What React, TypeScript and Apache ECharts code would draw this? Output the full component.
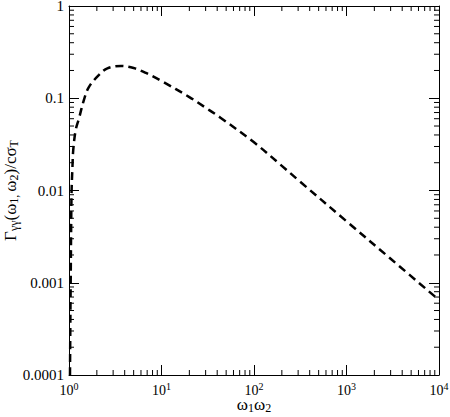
import React, { useEffect, useRef } from "react";
import * as echarts from "echarts";

// Curve (x = ω1ω2, y = Γγγ/cσT)
const xValues: number[] = [1.025, 1.035, 1.043, 1.055, 1.067, 1.09, 1.11, 1.18, 1.28, 1.45, 1.64, 2.11, 2.6, 3.65, 5, 6.8, 10, 20, 30, 43, 100, 200, 300, 1000, 3000, 10000];
const yValues: number[] = [0.0001, 0.0004, 0.001, 0.004, 0.01, 0.018, 0.027, 0.045, 0.06, 0.096, 0.132, 0.179, 0.211, 0.224, 0.213, 0.188, 0.154, 0.103, 0.079, 0.062, 0.0333, 0.0185, 0.013, 0.00464, 0.00182, 0.00065];

const xMin = 1;
const xMax = 10000;
const yMin = 0.0001;
const yMax = 1;
const yTickLabels: Record<string, string> = {
  "1": "1",
  "0.1": "0.1",
  "0.01": "0.01",
  "0.001": "0.001",
  "0.0001": "0.0001",
};

const xDecades = [0, 1, 2, 3];
const yDecades = [-4, -3, -2, -1];
const minorMults = [2, 3, 4, 5, 6, 7, 8, 9];

const FONT = "'Liberation Serif', 'Times New Roman', serif";

export default function App() {
  const ref = useRef<HTMLDivElement>(null);
  useEffect(() => {
    if (!ref.current) return;
    const chart = echarts.init(ref.current, undefined, { renderer: "svg" });

    const xMinor: number[][] = [];
    xDecades.forEach((d) => minorMults.forEach((m) => xMinor.push([m * Math.pow(10, d), yMin])));
    const yMinor: number[][] = [];
    yDecades.forEach((d) => minorMults.forEach((m) => yMinor.push([xMin, m * Math.pow(10, d)])));

    const lineStyle = { color: "#000", width: 1 };
    const minorLen = 5;

    const common = {
      type: "log" as const,
      logBase: 10,
      axisLine: { show: true, lineStyle, onZero: false },
      axisTick: { show: true, inside: true, length: 10, lineStyle },
      splitLine: { show: false },
      nameMoveOverlap: false,
    };

    const titleRich = {
      m: { fontSize: 17, fontFamily: FONT, color: "#000", lineHeight: 20 },
      s: { fontSize: 12, fontFamily: FONT, color: "#000", lineHeight: 12, verticalAlign: "bottom" },
    };

    const option: any = {
      animation: false,
      backgroundColor: "#fff",
      grid: { left: 69, right: 11, top: 6, bottom: 42, containLabel: false, outerBoundsMode: "none" },
      xAxis: [
        {
          ...common,
          position: "bottom",
          min: xMin,
          max: xMax,
          axisLabel: {
            margin: 6,
            formatter: (v: number) => `{b|10}{s|${Math.round(Math.log10(v))}}`,
            rich: {
              b: { fontSize: 14, fontFamily: FONT, color: "#000", lineHeight: 18 },
              s: { fontSize: 10, fontFamily: FONT, color: "#000", lineHeight: 10, verticalAlign: "top" },
            },
          },
          name: "{m|ω}{s|1}{m|ω}{s|2}",
          nameLocation: "middle",
          nameGap: 19,
          nameTextStyle: { rich: titleRich },
        },
        {
          ...common,
          position: "top",
          min: xMin,
          max: xMax,
          axisLabel: { show: false },
        },
      ],
      yAxis: [
        {
          ...common,
          position: "left",
          min: yMin,
          max: yMax,
          axisLabel: {
            margin: 5,
            fontSize: 15,
            fontFamily: FONT,
            formatter: (v: number) => {
              const k = String(Number(v.toPrecision(3)));
              return `{b|${yTickLabels[k] ?? k}}`;
            },
            rich: {
              b: { fontSize: 15, fontFamily: FONT, color: "#000", lineHeight: 12 },
            },
          },
          name: "{m|Γ}{s|γγ}{m|(ω}{s|1, }{m|ω}{s|2}{m|)/cσ}{s|T}",
          nameLocation: "middle",
          nameRotate: 90,
          nameGap: 49,
          nameTextStyle: { rich: titleRich },
        },
        {
          ...common,
          position: "right",
          min: yMin,
          max: yMax,
          axisLabel: { show: false },
        },
      ],
      series: [
        {
          type: "line",
          data: xValues.map((x, i) => [x, yValues[i]]),
          showSymbol: false,
          smooth: 0.35,
          lineStyle: { color: "#000", width: 2.5, type: [8, 5] },
          z: 5,
        },
        {
          type: "custom",
          silent: true,
          data: xMinor,
          renderItem: (_p: any, api: any) => {
            const v = api.value(0);
            const b = api.coord([v, yMin]);
            const t = api.coord([v, yMax]);
            return {
              type: "group",
              children: [
                { type: "line", shape: { x1: b[0], y1: b[1], x2: b[0], y2: b[1] - minorLen }, style: { stroke: "#000", lineWidth: 1 } },
                { type: "line", shape: { x1: t[0], y1: t[1], x2: t[0], y2: t[1] + minorLen }, style: { stroke: "#000", lineWidth: 1 } },
              ],
            };
          },
        },
        {
          type: "custom",
          silent: true,
          data: yMinor,
          renderItem: (_p: any, api: any) => {
            const v = api.value(1);
            const l = api.coord([xMin, v]);
            const r = api.coord([xMax, v]);
            return {
              type: "group",
              children: [
                { type: "line", shape: { x1: l[0], y1: l[1], x2: l[0] + minorLen, y2: l[1] }, style: { stroke: "#000", lineWidth: 1 } },
                { type: "line", shape: { x1: r[0], y1: r[1], x2: r[0] - minorLen, y2: r[1] }, style: { stroke: "#000", lineWidth: 1 } },
              ],
            };
          },
        },
      ],
    };
    chart.setOption(option);
    return () => chart.dispose();
  }, []);
  return <div ref={ref} style={{ position: "fixed", left: 0, top: 0, width: 450, height: 417 }} />;
}
